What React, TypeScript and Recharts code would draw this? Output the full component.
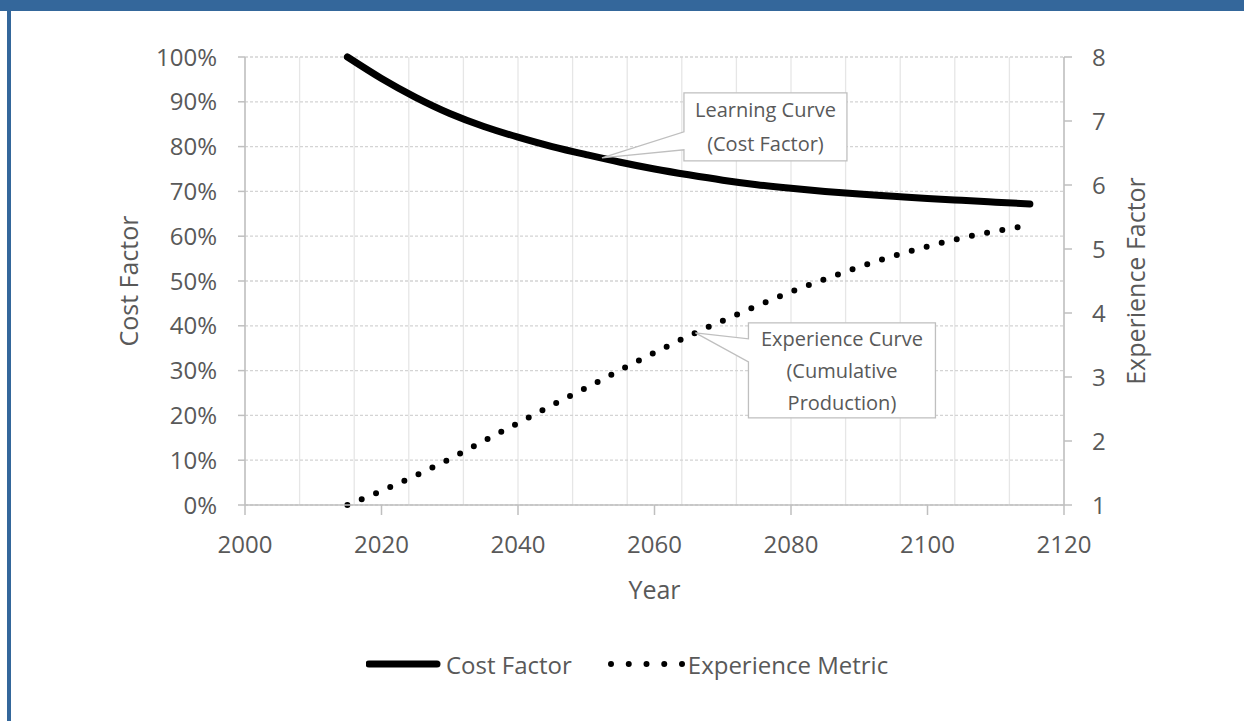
import { LineChart, Line, XAxis, YAxis, CartesianGrid, ReferenceDot } from 'recharts';

// years sampled every 5 years
const years = [
  2015, 2020, 2025, 2030, 2035, 2040, 2045, 2050, 2055, 2060, 2065,
  2070, 2075, 2080, 2085, 2090, 2095, 2100, 2105, 2110, 2115,
];
// learning curve, fraction of initial cost
const costFactor = [
  1.0, 0.952, 0.91, 0.874, 0.845, 0.821, 0.8, 0.782, 0.765, 0.75, 0.737,
  0.725, 0.715, 0.707, 0.7, 0.694, 0.689, 0.684, 0.68, 0.676, 0.672,
];
// cumulative production relative to 2015
const experienceMetric = [
  1.0, 1.22, 1.46, 1.72, 2.0, 2.28, 2.56, 2.83, 3.11, 3.38, 3.64,
  3.88, 4.11, 4.33, 4.53, 4.72, 4.89, 5.04, 5.17, 5.28, 5.37,
];

const yearTicks = [2000, 2020, 2040, 2060, 2080, 2100, 2120];
const minorYearTicks = [
  2000, 2004, 2008, 2012, 2016, 2020, 2024, 2028, 2032, 2036, 2040, 2044, 2048, 2052, 2056, 2060,
  2064, 2068, 2072, 2076, 2080, 2084, 2088, 2092, 2096, 2100, 2104, 2108, 2112, 2116, 2120,
];
const costTicks = [0, 0.1, 0.2, 0.3, 0.4, 0.5, 0.6, 0.7, 0.8, 0.9, 1.0];
const experienceTicks = [1, 2, 3, 4, 5, 6, 7, 8];

const learningNote = { year: 2052.3, value: 0.775, lines: ['Learning Curve', '(Cost Factor)'] };
const experienceNote = { year: 2066, value: 3.69, lines: ['Experience Curve', '(Cumulative', 'Production)'] };

const data = years.map((year, i) => ({ year, cost: costFactor[i], exp: experienceMetric[i] }));

const FONT = '"Open Sans", sans-serif';
const GREY_TEXT = '#595959';
const AXIS_LINE = '#bfbfbf';

const tickStyle = { fill: GREY_TEXT, fontSize: 24, fontFamily: FONT };

// callout box with a wedge pointing back at (cx, cy)
const Callout = ({ cx, cy, dx, dy, w, h, w1, w2, lines }: any) => {
  const L = cx + dx;
  const T = cy + dy;
  const R = L + w;
  const B = T + h;
  const path = `M${L},${T} H${R} V${B} H${L} V${cy + w2} L${cx},${cy} L${L},${cy + w1} Z`;
  const lh = h / lines.length;
  return (
    <g>
      <path d={path} fill="#fff" stroke={AXIS_LINE} strokeWidth={1.3} />
      {lines.map((t: string, i: number) => (
        <text key={t} x={(L + R) / 2} y={T + lh * (i + 0.5)} textAnchor="middle" dominantBaseline="central"
          fill={GREY_TEXT} fontSize={20} fontFamily={FONT}>
          {t}
        </text>
      ))}
    </g>
  );
};

const LegendLine = ({ dotted }: { dotted?: boolean }) => (
  <svg width={78} height={12} style={{ display: 'block' }}>
    {dotted ? (
      <line x1={3} y1={6} x2={74.5} y2={6} stroke="#000" strokeWidth={6} strokeLinecap="round" strokeDasharray="0 17.75" />
    ) : (
      <line x1={3} y1={6} x2={71} y2={6} stroke="#000" strokeWidth={7} strokeLinecap="round" />
    )}
  </svg>
);

export default function App() {
  return (
    <div style={{ position: 'absolute', left: 0, top: 0, width: 1244, height: 721, background: '#fff', overflow: 'hidden' }}>
      <div style={{ position: 'absolute', left: 0, top: 0, width: 1244, height: 11, background: '#34679b' }} />
      <div style={{ position: 'absolute', left: 7, top: 0, width: 4, height: 721, background: '#34679b' }} />

      <div style={{ position: 'absolute', left: 0, top: 0 }}>
        <LineChart width={1244} height={721} data={data} margin={{ top: 57, right: 80, bottom: 156, left: 100 }}
          style={{ fontFamily: FONT }}>
          <CartesianGrid xAxisId="minor" yAxisId="left" horizontal={false} stroke="#e6e6e6" strokeWidth={1.3} />
          <CartesianGrid xAxisId="main" yAxisId="left" vertical={false} stroke="#d4d4d4" strokeDasharray="3 2" strokeWidth={1.3} />
          <XAxis xAxisId="minor" dataKey="year" type="number" domain={[2000, 2120]} ticks={minorYearTicks} hide />
          <XAxis
            xAxisId="main"
            dataKey="year"
            type="number"
            domain={[2000, 2120]}
            ticks={yearTicks}
            interval={0}
            height={60}
            stroke={AXIS_LINE}
            strokeWidth={1.5}
            tickSize={10}
            tickMargin={21}
            tick={tickStyle}
            label={{
              content: ({ viewBox }: any) => (
                <text x={viewBox.x + viewBox.width / 2} y={viewBox.y + 84} textAnchor="middle" dominantBaseline="central"
                  fill={GREY_TEXT} fontSize={25} fontFamily={FONT}>
                  Year
                </text>
              ),
            }}
          />
          <YAxis
            yAxisId="left"
            domain={[0, 1]}
            ticks={costTicks}
            interval={0}
            width={145}
            stroke={AXIS_LINE}
            strokeWidth={1.5}
            tickSize={7}
            tickMargin={21}
            tick={tickStyle}
            tickFormatter={(v: number) => `${Math.round(v * 100)}%`}
            label={{
              content: ({ viewBox }: any) => {
                const x = viewBox.x + viewBox.width - 117;
                const y = viewBox.y + viewBox.height / 2;
                return (
                  <text x={x} y={y} transform={`rotate(-90 ${x} ${y})`} textAnchor="middle" dominantBaseline="central"
                    fill={GREY_TEXT} fontSize={25} fontFamily={FONT}>
                    Cost Factor
                  </text>
                );
              },
            }}
          />
          <YAxis
            yAxisId="right"
            orientation="right"
            domain={[1, 8]}
            ticks={experienceTicks}
            interval={0}
            width={100}
            stroke={AXIS_LINE}
            strokeWidth={1.5}
            tickSize={8}
            tickMargin={20}
            tick={tickStyle}
            label={{
              content: ({ viewBox }: any) => {
                const x = viewBox.x + 71;
                const y = viewBox.y + viewBox.height / 2;
                return (
                  <text x={x} y={y} transform={`rotate(-90 ${x} ${y})`} textAnchor="middle" dominantBaseline="central"
                    fill={GREY_TEXT} fontSize={25} fontFamily={FONT}>
                    Experience Factor
                  </text>
                );
              },
            }}
          />
          <Line
            xAxisId="main"
            yAxisId="left"
            type="natural"
            dataKey="cost"
            stroke="#000"
            strokeWidth={7}
            strokeLinecap="round"
            dot={false}
            activeDot={false}
            isAnimationActive={false}
          />
          <Line
            xAxisId="main"
            yAxisId="right"
            type="natural"
            dataKey="exp"
            stroke="#000"
            strokeWidth={6}
            strokeLinecap="round"
            strokeDasharray="0 15.5"
            dot={false}
            activeDot={false}
            isAnimationActive={false}
          />
          <ReferenceDot
            xAxisId="main"
            yAxisId="left"
            x={learningNote.year}
            y={learningNote.value}
            r={0}
            shape={(p: any) => (
              <Callout cx={p.cx} cy={p.cy} dx={82} dy={-65} w={163} h={68} w1={-26} w2={-8} lines={learningNote.lines} />
            )}
          />
          <ReferenceDot
            xAxisId="main"
            yAxisId="right"
            x={experienceNote.year}
            y={experienceNote.value}
            r={0}
            shape={(p: any) => (
              <Callout cx={p.cx} cy={p.cy} dx={53} dy={-10} w={187} h={95} w1={6} w2={29} lines={experienceNote.lines} />
            )}
          />
        </LineChart>
      </div>

      <div style={{ position: 'absolute', left: 366, top: 647, height: 34, display: 'flex', alignItems: 'center',
        fontFamily: FONT, fontSize: 24, color: GREY_TEXT, whiteSpace: 'nowrap' }}>
        <LegendLine />
        <span style={{ marginLeft: 2 }}>Cost Factor</span>
        <span style={{ marginLeft: 36 }}><LegendLine dotted /></span>
        <span style={{ marginLeft: 2 }}>Experience Metric</span>
      </div>
    </div>
  );
}
